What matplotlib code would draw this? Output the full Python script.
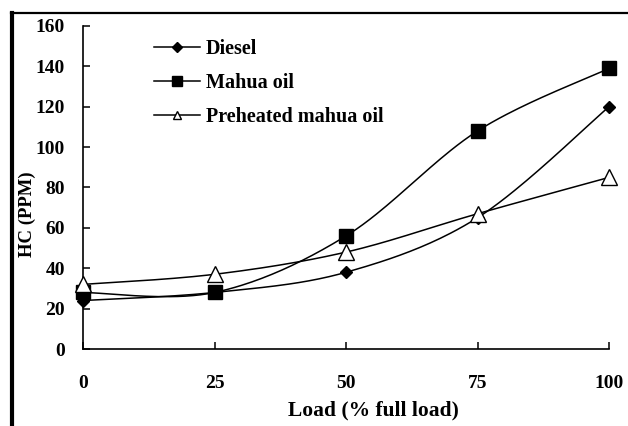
import numpy as np
import matplotlib
matplotlib.use("Agg")
import matplotlib.pyplot as plt
from matplotlib.lines import Line2D

# data
load = [0, 25, 50, 75, 100]
diesel = [24, 28, 38, 65, 120]
mahua = [28, 28, 56, 108, 139]
preheated = [32, 37, 48, 67, 85]

x_ticks = [0, 25, 50, 75, 100]
y_ticks = [0, 20, 40, 60, 80, 100, 120, 140, 160]


def smooth(xs, ys, n=40):
    # excel-like smoothed line through the points (bezier segments)
    p = np.column_stack([xs, ys]).astype(float)
    out = []
    for i in range(len(p) - 1):
        p0 = p[i - 1] if i > 0 else p[i]
        p1, p2 = p[i], p[i + 1]
        p3 = p[i + 2] if i + 2 < len(p) else p[i + 1]
        c1 = p1 + (p2 - p0) / 6.0
        c2 = p2 - (p3 - p1) / 6.0
        t = np.linspace(0, 1, n)[:, None]
        seg = ((1 - t) ** 3) * p1 + 3 * ((1 - t) ** 2) * t * c1 + 3 * (1 - t) * t ** 2 * c2 + t ** 3 * p2
        out.append(seg if i == 0 else seg[1:])
    s = np.vstack(out)
    return s[:, 0], s[:, 1]


plt.rcParams['font.family'] = 'Liberation Serif'
plt.rcParams['font.weight'] = 'bold'

fig = plt.figure(figsize=(6.28, 4.26), dpi=100)
ax = fig.add_axes([83 / 628, 1 - 349 / 426, (609 - 83) / 628, (349 - 26) / 426])

series = [
    (diesel, 'D', 6, 'black'),
    (mahua, 's', 10, 'black'),
    (preheated, '^', 11, 'white'),
]
for ys, m, ms, fc in series:
    sx, sy = smooth(load, ys)
    ax.plot(sx, sy, color='black', lw=1.1, zorder=2)
    ax.plot(load, ys, ls='none', marker=m, ms=ms, mfc=fc, mec='black', mew=1.0, zorder=3, clip_on=False)

ax.set_xlim(0, 100)
ax.set_ylim(0, 160)
ax.set_xticks(x_ticks)
ax.set_yticks(y_ticks)
ax.spines['top'].set_visible(False)
ax.spines['right'].set_visible(False)
for s in ['left', 'bottom']:
    ax.spines[s].set_linewidth(1.2)
ax.tick_params(axis='both', direction='in', length=5, width=1.1, labelsize=14)
ax.tick_params(axis='y', pad=13)
ax.tick_params(axis='x', pad=19)

handles = [
    Line2D([], [], color='black', lw=1.1, marker='D', ms=5, mfc='black', mec='black'),
    Line2D([], [], color='black', lw=1.1, marker='s', ms=7, mfc='black', mec='black'),
    Line2D([], [], color='black', lw=1.1, marker='^', ms=6, mfc='white', mec='black'),
]
ax.legend(handles, ['Diesel', 'Mahua oil', 'Preheated mahua oil'], loc='upper left',
          bbox_to_anchor=(0.12, 0.985), frameon=False, fontsize=14.5, handlelength=2.3,
          handletextpad=0.25, labelspacing=0.7, borderaxespad=0)

fig.text(373 / 628, 1 - 410 / 426, 'Load (% full load)', ha='center', va='center', fontsize=15.5, fontweight='bold')
fig.text(27 / 628, 1 - 214 / 426, 'HC (PPM)', ha='center', va='center', rotation=90, fontsize=13.5, fontweight='bold')

# border lines of the pasted image
fig.add_artist(Line2D([12 / 628, 12 / 628], [0, 1 - 13 / 426], color='black', lw=3, transform=fig.transFigure))
fig.add_artist(Line2D([11 / 628, 1], [1 - 13 / 426, 1 - 13 / 426], color='black', lw=1.6, transform=fig.transFigure))

fig.savefig('out.png', dpi=100)
